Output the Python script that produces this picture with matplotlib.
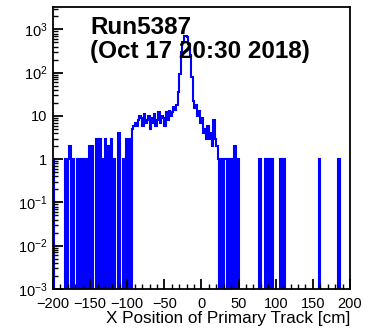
import matplotlib
matplotlib.use('Agg')
import matplotlib.pyplot as plt
from matplotlib.ticker import FixedLocator, FixedFormatter, MultipleLocator
import numpy as np

plt.rcParams['font.family'] = ['Liberation Sans', 'DejaVu Sans']
plt.rcParams['mathtext.fontset'] = 'custom'
plt.rcParams['mathtext.rm'] = 'Liberation Sans'
plt.rcParams['mathtext.it'] = 'Liberation Sans:italic'
plt.rcParams['mathtext.bf'] = 'Liberation Sans:bold'

# histogram: 200 bins of 2 cm from -200 to 200
x_min, x_max = -200, 200
counts = [
    1, 0, 0, 0, 0, 0, 0, 0, 1, 0, 1, 2, 0, 1, 0, 0, 1, 0, 1, 0,            # -200..-160
    1, 0, 1, 0, 2, 0, 2, 0, 0, 3, 0, 3, 0, 1, 0, 3, 0, 2, 0, 3,            # -160..-120
    0, 1, 0, 0, 4, 0, 0, 1, 0, 3, 0, 3, 0, 5, 6, 7, 6, 8, 10, 9,           # -120..-80
    6, 11, 7, 8, 10, 5, 9, 7, 11, 6, 8, 12, 7, 10, 9, 6, 12, 8, 13, 10,    # -80..-40
    12, 16, 14, 18, 35, 95, 300, 500, 700, 720, 650, 450, 250, 80, 22, 15, 18, 10, 13, 7,  # -40..0
    9, 4, 5, 3, 6, 3, 4, 2, 8, 3, 2, 1, 0, 1, 0, 1, 1, 0, 1, 0,            # 0..40
    1, 0, 2, 0, 1, 0, 0, 0, 0, 0, 0, 0, 0, 0, 0, 0, 0, 0, 0, 1,            # 40..80
    0, 0, 0, 1, 0, 1, 0, 1, 0, 0, 0, 0, 0, 1, 0, 1, 0, 0, 0, 0,            # 80..120
    0, 0, 0, 0, 0, 0, 0, 0, 0, 0, 0, 0, 0, 0, 0, 0, 0, 0, 0, 1,            # 120..160
    0, 0, 0, 0, 0, 0, 0, 0, 0, 0, 0, 0, 1, 0, 0, 0, 0, 0, 0, 0,            # 160..200
]

y_ticks = [1e-3, 1e-2, 1e-1, 1, 10, 1e2, 1e3]
y_labels = ['$10^{-3}$', '$10^{-2}$', '$10^{-1}$', '1', '10', '$10^{2}$', '$10^{3}$']
x_ticks = [-200, -150, -100, -50, 0, 50, 100, 150, 200]
x_labels = ['\u2212200', '\u2212150', '\u2212100', '\u221250', '0', '50', '100', '150', '200']

edges = np.linspace(x_min, x_max, len(counts) + 1)
floor = 1e-6  # empty bins drop below the axis like ROOT does on log scale
vals = np.where(np.array(counts) > 0, counts, floor).astype(float)

fig = plt.figure(figsize=(3.68, 3.31), dpi=100)
ax = fig.add_axes([0.144, 0.127, 0.807, 0.852])
ax.stairs(vals, edges, baseline=floor, color='blue', lw=1.5)

ax.set_yscale('log')
ax.set_xlim(x_min, x_max)
ax.set_ylim(1e-3, 3300)

ax.yaxis.set_major_locator(FixedLocator(y_ticks))
ax.yaxis.set_major_formatter(FixedFormatter(y_labels))
ax.xaxis.set_major_locator(FixedLocator(x_ticks))
ax.xaxis.set_major_formatter(FixedFormatter(x_labels))
ax.xaxis.set_minor_locator(MultipleLocator(10))

ax.tick_params(axis='both', which='major', direction='in', length=7, width=1.3,
               labelsize=10.5, top=False, right=False)
ax.tick_params(axis='both', which='minor', direction='in', length=3.5, width=1.0,
               top=False, right=False)
ax.tick_params(axis='y', pad=4)
ax.tick_params(axis='x', pad=6)
for s in ax.spines.values():
    s.set_linewidth(1.3)

ax.set_xlabel('X Position of Primary Track [cm]', fontsize=12.3, loc='right', labelpad=0)

ax.text(0.125, 0.905, 'Run5387', transform=ax.transAxes, fontsize=17.5,
        fontweight='bold', ha='left', va='baseline')
ax.text(0.125, 0.82, '(Oct 17 20:30 2018)', transform=ax.transAxes, fontsize=17.5,
        fontweight='bold', ha='left', va='baseline')

fig.savefig('out.png', dpi=100)
